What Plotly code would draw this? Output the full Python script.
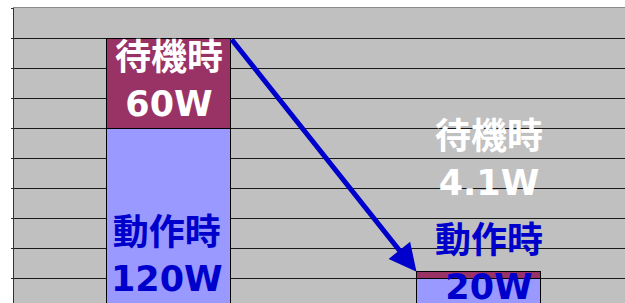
import plotly.graph_objects as go

# ---- data ----
categories = [0, 1]                 # before / after
operating_w = [120, 20]             # 動作時 (W)
standby_w = [60, 4.1]               # 待機時 (W)
operating_names = ["動作時", "動作時"]
standby_names = ["待機時", "待機時"]
operating_values_txt = ["120W", "20W"]
standby_values_txt = ["60W", "4.1W"]

BAR_W = 0.4
FONT = "DejaVu Sans, Noto Sans CJK JP, sans-serif"
FS = 35
CJK_FS = 36
BLUE = "#0000CC"


def label(name, val):
    return ("<b><span style='font-size:%dpx'>%s</span><br>%s</b>" % (CJK_FS, name, val))


fig = go.Figure()
fig.add_bar(x=categories, y=operating_w, width=BAR_W, name="動作時",
            marker=dict(color="#9999FF", line=dict(color="#000000", width=1)))
fig.add_bar(x=categories, y=standby_w, width=BAR_W, name="待機時",
            marker=dict(color="#993366", line=dict(color="#000000", width=1)))

tops = [o + s for o, s in zip(operating_w, standby_w)]

ann = []
# bar 1 labels
ann.append(dict(x=categories[0], y=operating_w[0] + standby_w[0] / 2, yshift=3,
                text=label(standby_names[0], standby_values_txt[0]),
                font=dict(color="white", size=FS, family=FONT)))
ann.append(dict(x=categories[0], y=operating_w[0], yshift=-127, xshift=-2,
                text=label(operating_names[0], operating_values_txt[0]),
                font=dict(color=BLUE, size=FS, family=FONT)))
# bar 2 labels (placed above the short bar)
ann.append(dict(x=categories[1], y=tops[1], yshift=112, xshift=10,
                text=label(standby_names[1], standby_values_txt[1]),
                font=dict(color="white", size=FS, family=FONT)))
ann.append(dict(x=categories[1], y=tops[1], yshift=8, xshift=10,
                text=label(operating_names[1], operating_values_txt[1]),
                font=dict(color=BLUE, size=FS, family=FONT)))
for a in ann:
    a.update(showarrow=False, xref="x", yref="y", yanchor="middle", xanchor="center")

# arrow from top-right of bar 1 to top-left of bar 2
ann.append(dict(x=categories[1] - BAR_W / 2, y=tops[1],
                ax=categories[0] + BAR_W / 2, ay=tops[0],
                xref="x", yref="y", axref="x", ayref="y",
                text="", showarrow=True, arrowhead=2, arrowsize=1.1,
                arrowwidth=5, arrowcolor=BLUE, standoff=0))

fig.update_layout(
    width=625, height=303,
    margin=dict(l=14, r=0, t=8, b=0),
    barmode="stack",
    showlegend=False,
    paper_bgcolor="white",
    plot_bgcolor="#C0C0C0",
    annotations=ann,
    xaxis=dict(range=[-0.4984, 1.4726], side="top", showline=True, linecolor="#8a8a8a",
               linewidth=1, showticklabels=False, ticks="", showgrid=False, zeroline=False),
    yaxis=dict(range=[3.333, 200], tick0=0, dtick=20, showgrid=True, gridcolor="#1a1a1a",
               gridwidth=1, showline=True, linecolor="#333333", linewidth=1,
               ticks="outside", ticklen=2, tickcolor="#333333", showticklabels=False,
               zeroline=False),
)

fig.write_html("out.html", config={"displayModeBar": False},
               post_script="document.body.style.margin='0';document.body.style.overflow='hidden';")
